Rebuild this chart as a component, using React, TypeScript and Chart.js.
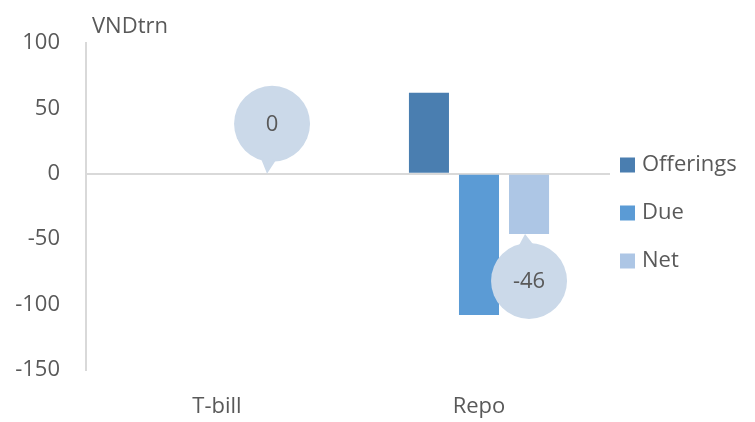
import React, { useEffect, useRef } from "react";
import { Chart, registerables } from "chart.js";

Chart.register(...registerables);

const categories = ["T-bill", "Repo"];
const offerings = [0, 62];
const due = [0, -108];
const net = [0, -46];
const seriesNames = ["Offerings", "Due", "Net"];
const yTicks = [100, 50, 0, -50, -100, -150];
const unitLabel = "VNDtrn";

const FONT = "'Open Sans', 'Noto Sans', sans-serif";
const TEXT = "#595959";
const COLORS = ["#4a7eb0", "#5b9bd5", "#adc6e5"];
const BUBBLE = "#cbd9e9";

const extrasPlugin = {
  id: "extras",
  afterDatasetsDraw(chart: any) {
    const ctx = chart.ctx;
    const area = chart.chartArea;
    // unit label
    ctx.save();
    ctx.font = `22px ${FONT}`;
    ctx.fillStyle = TEXT;
    ctx.textAlign = "left";
    ctx.textBaseline = "alphabetic";
    ctx.fillText(unitLabel, area.left + 6, area.top - 10);
    ctx.restore();

    // callout bubbles on Net series
    const meta = chart.getDatasetMeta(2);
    const data = chart.data.datasets[2].data as number[];
    meta.data.forEach((el: any, i: number) => {
      const v = data[i];
      const x = el.x;
      const y = el.y;
      const r = 38;
      let cx: number, cy: number, tx: number, ty: number;
      if (v >= 0) {
        cx = x + 5;
        cy = y - 50;
        tx = x;
        ty = y;
      } else {
        cx = x;
        cy = y + 47;
        tx = x - 4;
        ty = y;
      }
      ctx.save();
      ctx.fillStyle = BUBBLE;
      ctx.beginPath();
      ctx.arc(cx, cy, r, 0, Math.PI * 2);
      ctx.fill();
      const ang = Math.atan2(ty - cy, tx - cx);
      const spread = 0.22;
      ctx.beginPath();
      ctx.moveTo(cx + (r - 2) * Math.cos(ang - spread), cy + (r - 2) * Math.sin(ang - spread));
      ctx.lineTo(tx, ty);
      ctx.lineTo(cx + (r - 2) * Math.cos(ang + spread), cy + (r - 2) * Math.sin(ang + spread));
      ctx.closePath();
      ctx.fill();
      ctx.font = `22px ${FONT}`;
      ctx.fillStyle = TEXT;
      ctx.textAlign = "center";
      ctx.textBaseline = "middle";
      ctx.fillText(String(v), cx, cy + 1);
      ctx.restore();
    });

    // legend
    ctx.save();
    ctx.font = `22px ${FONT}`;
    ctx.textAlign = "left";
    ctx.textBaseline = "middle";
    chart.data.datasets.forEach((ds: any, i: number) => {
      const rowY = chart.height / 2 + (i - 1) * 48 + 2;
      const bx = area.right + 10;
      ctx.fillStyle = ds.backgroundColor;
      ctx.fillRect(bx, rowY - 7.5, 15, 15);
      ctx.fillStyle = TEXT;
      ctx.fillText(ds.label, bx + 22, rowY);
    });
    ctx.restore();
  },
};

export default function App() {
  const ref = useRef<HTMLCanvasElement>(null);
  useEffect(() => {
    document.body.style.margin = "0";
    const values = [offerings, due, net];
    const chart = new Chart(ref.current!, {
      type: "bar",
      data: {
        labels: categories,
        datasets: seriesNames.map((name, i) => ({
          label: name,
          data: values[i],
          backgroundColor: COLORS[i],
          borderWidth: 0,
          categoryPercentage: 0.573,
          barPercentage: 0.8,
        })),
      },
      options: {
        animation: false,
        responsive: false,
        layout: { padding: { top: 43, left: 15, right: 145, bottom: 2 } },
        plugins: {
          legend: { display: false },
          tooltip: { enabled: false },
          title: { display: false },
        },
        scales: {
          x: {
            grid: { display: false, drawTicks: false },
            border: { display: false },
            ticks: { color: TEXT, font: { family: FONT, size: 22 }, padding: 24 },
            afterFit: (scale: any) => {
              scale.height = 50;
            },
          },
          y: {
            min: -150,
            max: 100,
            afterBuildTicks: (scale: any) => {
              scale.ticks = yTicks.map((v) => ({ value: v }));
            },
            afterFit: (scale: any) => {
              scale.width = 71;
            },
            grid: {
              drawTicks: false,
              lineWidth: 2,
              color: (c: any) => (c.tick && c.tick.value === 0 ? "#d9d9d9" : "rgba(0,0,0,0)"),
            },
            border: { display: true, color: "#d9d9d9", width: 2 },
            ticks: { color: TEXT, font: { family: FONT, size: 22 }, padding: 26 },
          },
        },
      },
      plugins: [extrasPlugin],
    });
    return () => chart.destroy();
  }, []);
  return (
    <div style={{ position: "absolute", left: 0, top: 0, width: 755, height: 422, background: "#fff" }}>
      <canvas ref={ref} width={755} height={422} />
    </div>
  );
}
